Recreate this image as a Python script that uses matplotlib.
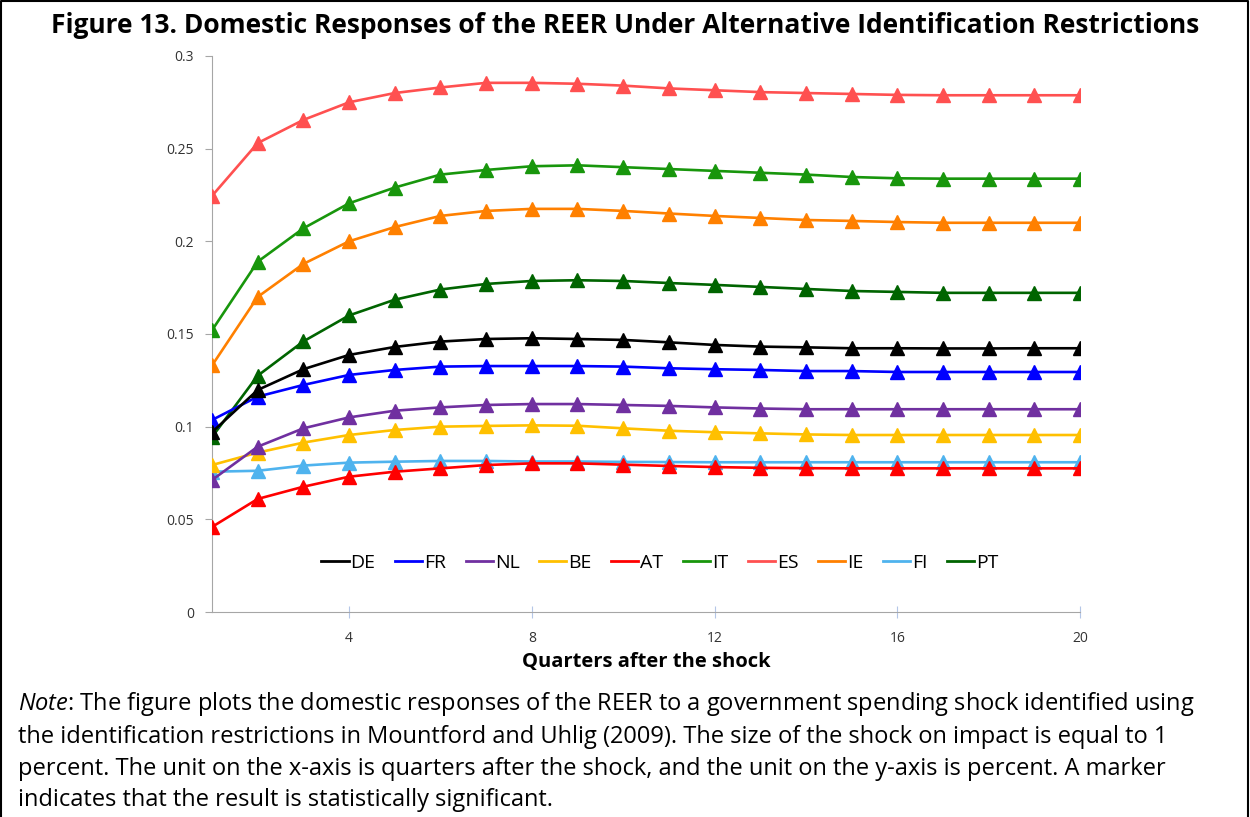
import numpy as np
import matplotlib.pyplot as plt
from matplotlib.lines import Line2D

quarters = list(range(1, 21))
names = ['DE', 'FR', 'NL', 'BE', 'AT', 'IT', 'ES', 'IE', 'FI', 'PT']
colors = ['#000000', '#0000FF', '#7030A0', '#FFC000', '#FF0000',
          '#18960C', '#FF5050', '#FF8000', '#4FB3EE', '#006400']

de = [0.0970, 0.1198, 0.1310, 0.1387, 0.1430, 0.1459, 0.1473, 0.1477, 0.1473, 0.1468,
      0.1455, 0.1441, 0.1432, 0.1428, 0.1423, 0.1423, 0.1422, 0.1422, 0.1423, 0.1423]
fr = [0.1036, 0.1162, 0.1225, 0.1279, 0.1306, 0.1324, 0.1327, 0.1327, 0.1327, 0.1324,
      0.1315, 0.1310, 0.1306, 0.1300, 0.1300, 0.1295, 0.1295, 0.1295, 0.1295, 0.1295]
nl = [0.0712, 0.0892, 0.0991, 0.1050, 0.1086, 0.1104, 0.1117, 0.1122, 0.1122, 0.1117,
      0.1112, 0.1104, 0.1098, 0.1094, 0.1094, 0.1094, 0.1094, 0.1094, 0.1094, 0.1094]
be = [0.0793, 0.0860, 0.0914, 0.0955, 0.0982, 0.1000, 0.1004, 0.1007, 0.1005, 0.0991,
      0.0978, 0.0970, 0.0964, 0.0958, 0.0955, 0.0955, 0.0955, 0.0955, 0.0955, 0.0955]
at = [0.0459, 0.0610, 0.0676, 0.0730, 0.0757, 0.0775, 0.0793, 0.0802, 0.0802, 0.0795,
      0.0788, 0.0782, 0.0778, 0.0776, 0.0775, 0.0775, 0.0775, 0.0775, 0.0775, 0.0775]
it = [0.1520, 0.1890, 0.2070, 0.2205, 0.2290, 0.2360, 0.2385, 0.2405, 0.2410, 0.2400,
      0.2390, 0.2380, 0.2370, 0.2360, 0.2347, 0.2340, 0.2338, 0.2338, 0.2338, 0.2338]
es = [0.2245, 0.2530, 0.2655, 0.2750, 0.2800, 0.2830, 0.2855, 0.2855, 0.2850, 0.2840,
      0.2825, 0.2815, 0.2805, 0.2800, 0.2795, 0.2790, 0.2788, 0.2788, 0.2788, 0.2788]
ie = [0.1330, 0.1700, 0.1878, 0.2000, 0.2077, 0.2137, 0.2164, 0.2175, 0.2175, 0.2164,
      0.2150, 0.2137, 0.2126, 0.2115, 0.2110, 0.2104, 0.2100, 0.2100, 0.2100, 0.2100]
fi = [0.0757, 0.0762, 0.0790, 0.0806, 0.0811, 0.0815, 0.0815, 0.0812, 0.0812, 0.0810,
      0.0809, 0.0808, 0.0808, 0.0808, 0.0808, 0.0808, 0.0808, 0.0808, 0.0808, 0.0808]
pt = [0.0944, 0.1275, 0.1460, 0.1600, 0.1685, 0.1740, 0.1770, 0.1786, 0.1790, 0.1786,
      0.1775, 0.1765, 0.1754, 0.1743, 0.1732, 0.1727, 0.1722, 0.1722, 0.1722, 0.1722]
series = [de, fr, nl, be, at, it, es, ie, fi, pt]

yticks = [0, 0.05, 0.1, 0.15, 0.2, 0.25, 0.3]
xticks = [4, 8, 12, 16, 20]

title = 'Figure 13. Domestic Responses of the REER Under Alternative Identification Restrictions'
note = ('$\\it{Note}$: The figure plots the domestic responses of the REER to a government spending shock identified using\n'
        'the identification restrictions in Mountford and Uhlig (2009). The size of the shock on impact is equal to 1\n'
        'percent. The unit on the x-axis is quarters after the shock, and the unit on the y-axis is percent. A marker\n'
        'indicates that the result is statistically significant.')

plt.rcParams['font.family'] = ['Open Sans', 'DejaVu Sans']
plt.rcParams['mathtext.fontset'] = 'custom'
plt.rcParams['mathtext.it'] = 'Open Sans:italic'
plt.rcParams['mathtext.rm'] = 'Open Sans'

fig = plt.figure(figsize=(12.5, 8.17), dpi=100)
ax = fig.add_axes([0.1696, 0.2509, 0.6944, 0.6806])

# draw in reverse so DE etc. sit on top like the original
for name, vals, c in reversed(list(zip(names, series, colors))):
    ax.plot(quarters, vals, color=c, lw=1.9, marker='^', ms=10, mec=c, zorder=3)

ax.set_xlim(1, 20)
ax.set_ylim(0, 0.3)
ax.set_xticks(xticks)
ax.set_yticks(yticks)
ax.set_yticklabels([f'{v:g}' for v in yticks])
for s in ['top', 'right']:
    ax.spines[s].set_visible(False)
ax.spines['left'].set_color('#A6A6A6')
ax.spines['bottom'].set_color('#A6A6A6')
ax.tick_params(axis='x', direction='inout', length=8, color='#B4C6E7', labelsize=10,
               pad=10, labelcolor='#333333')
ax.tick_params(axis='y', direction='out', length=5, color='#A6A6A6', labelsize=10,
               pad=8, labelcolor='#333333')
ax.set_xlabel('Quarters after the shock', fontsize=14.5, fontweight='bold', labelpad=4)

handles = [Line2D([0], [0], color=c, lw=2) for c in colors]
ax.legend(handles, names, loc='center', bbox_to_anchor=(0.516, 0.088), ncol=10,
          frameon=False, fontsize=14, handlelength=1.4, handletextpad=0.1,
          columnspacing=1.0)

fig.text(0.5, 0.969, title, ha='center', va='center', fontsize=19, fontweight='bold')
fig.text(0.0144, 0.156, note, ha='left', va='top', fontsize=17, linespacing=1.42)

# figure frame (left, top, right)
fig.add_artist(Line2D([0.001, 0.001, 0.998, 0.998], [0.0, 0.999, 0.999, 0.0],
                      transform=fig.transFigure, color='black', lw=1.5))

fig.savefig('out.png', dpi=100)
